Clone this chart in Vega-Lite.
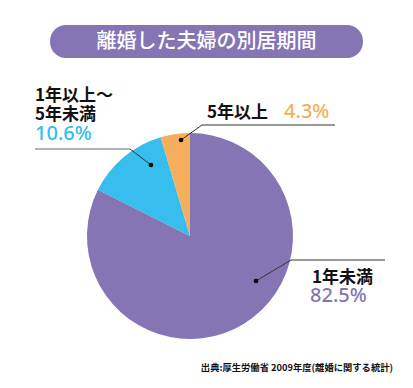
{
  "$schema": "https://vega.github.io/schema/vega-lite/v6.json",
  "width": 413,
  "height": 388,
  "autosize": "none",
  "padding": 0,
  "background": "white",
  "config": {"view": {"stroke": null}},
  "datasets": {
    "slices": [
      {"category": "1年未満", "pct": "82.5%", "share": 82.4, "rank": 1},
      {"category": "1年以上～5年未満", "pct": "10.6%", "share": 13.0, "rank": 2},
      {"category": "5年以上", "pct": "4.3%", "share": 4.6, "rank": 3}
    ],
    "pctlabels": [
      {"category": "1年以上～5年未満", "pct": "10.6%", "x": 35, "y": 140},
      {"category": "5年以上", "pct": "4.3%", "x": 284, "y": 118},
      {"category": "1年未満", "pct": "82.5%", "x": 310, "y": 302}
    ],
    "names": [
      {"text": "1年以上～", "x": 35, "y": 101},
      {"text": "5年未満", "x": 35, "y": 120},
      {"text": "5年以上", "x": 207, "y": 118},
      {"text": "1年未満", "x": 312, "y": 283}
    ],
    "grayleader": [
      {"x": 35, "y": 149, "x2": 130, "y2": 149}
    ],
    "darkleaders": [
      {"x": 130, "y": 149, "x2": 151, "y2": 165},
      {"x": 202, "y": 125, "x2": 335, "y2": 125},
      {"x": 202, "y": 125, "x2": 181, "y2": 140},
      {"x": 291, "y": 260, "x2": 385, "y2": 260},
      {"x": 291, "y": 260, "x2": 256, "y2": 281}
    ],
    "dots": [
      {"x": 151, "y": 165},
      {"x": 181, "y": 140},
      {"x": 256, "y": 281}
    ],
    "banner": [
      {"x": 50, "x2": 363, "y": 25, "y2": 58, "xc": 206.5, "yc": 42, "text": "離婚した夫婦の別居期間"}
    ],
    "source": [
      {"x": 393, "y": 368, "text": "出典:厚生労働省 2009年度(離婚に関する統計)"}
    ]
  },
  "layer": [
    {
      "data": {"name": "banner"},
      "mark": {"type": "rect", "cornerRadius": 16, "color": "#8575b4"},
      "encoding": {
        "x": {"field": "x", "type": "quantitative", "scale": {"domain": [0, 413], "nice": false, "zero": false}, "axis": null},
        "x2": {"field": "x2"},
        "y": {"field": "y", "type": "quantitative", "scale": {"domain": [0, 388], "nice": false, "zero": false, "reverse": true}, "axis": null},
        "y2": {"field": "y2"}
      }
    },
    {
      "data": {"name": "banner"},
      "mark": {"type": "text", "color": "white", "font": "Noto Sans CJK JP", "fontSize": 20, "fontWeight": 500, "align": "center", "baseline": "middle"},
      "encoding": {
        "x": {"field": "xc", "type": "quantitative", "axis": null},
        "y": {"field": "yc", "type": "quantitative", "axis": null},
        "text": {"field": "text"}
      }
    },
    {
      "data": {"name": "slices"},
      "mark": {"type": "arc", "outerRadius": 103},
      "encoding": {
        "x": {"datum": 190, "type": "quantitative", "axis": null},
        "y": {"datum": 236, "type": "quantitative", "axis": null},
        "theta": {"field": "share", "type": "quantitative", "stack": true},
        "order": {"field": "rank", "type": "quantitative"},
        "color": {"field": "category", "type": "nominal", "legend": null,
          "scale": {"domain": ["1年未満", "1年以上～5年未満", "5年以上"], "range": ["#8575b4", "#37bdee", "#f5ae5c"]}}
      }
    },
    {
      "data": {"name": "grayleader"},
      "mark": {"type": "rule", "color": "#b3b3b3", "strokeWidth": 2},
      "encoding": {
        "x": {"field": "x", "type": "quantitative", "axis": null},
        "y": {"field": "y", "type": "quantitative", "axis": null},
        "x2": {"field": "x2"},
        "y2": {"field": "y2"}
      }
    },
    {
      "data": {"name": "darkleaders"},
      "mark": {"type": "rule", "color": "#333333", "strokeWidth": 1},
      "encoding": {
        "x": {"field": "x", "type": "quantitative", "axis": null},
        "y": {"field": "y", "type": "quantitative", "axis": null},
        "x2": {"field": "x2"},
        "y2": {"field": "y2"}
      }
    },
    {
      "data": {"name": "dots"},
      "mark": {"type": "circle", "color": "black", "size": 22, "opacity": 1},
      "encoding": {
        "x": {"field": "x", "type": "quantitative", "axis": null},
        "y": {"field": "y", "type": "quantitative", "axis": null}
      }
    },
    {
      "data": {"name": "names"},
      "mark": {"type": "text", "color": "#111111", "font": "Noto Sans CJK JP", "fontSize": 17, "fontWeight": "bold", "align": "left", "baseline": "alphabetic"},
      "encoding": {
        "x": {"field": "x", "type": "quantitative", "axis": null},
        "y": {"field": "y", "type": "quantitative", "axis": null},
        "text": {"field": "text"}
      }
    },
    {
      "data": {"name": "pctlabels"},
      "mark": {"type": "text", "font": "Noto Sans", "fontSize": 20, "fontWeight": 500, "align": "left", "baseline": "alphabetic"},
      "encoding": {
        "x": {"field": "x", "type": "quantitative", "axis": null},
        "y": {"field": "y", "type": "quantitative", "axis": null},
        "text": {"field": "pct"},
        "color": {"field": "category", "type": "nominal", "legend": null}
      }
    },
    {
      "data": {"name": "source"},
      "mark": {"type": "text", "color": "#111111", "font": "Noto Sans CJK JP", "fontSize": 9.3, "fontWeight": "bold", "align": "right", "baseline": "middle"},
      "encoding": {
        "x": {"field": "x", "type": "quantitative", "axis": null},
        "y": {"field": "y", "type": "quantitative", "axis": null},
        "text": {"field": "text"}
      }
    }
  ]
}
